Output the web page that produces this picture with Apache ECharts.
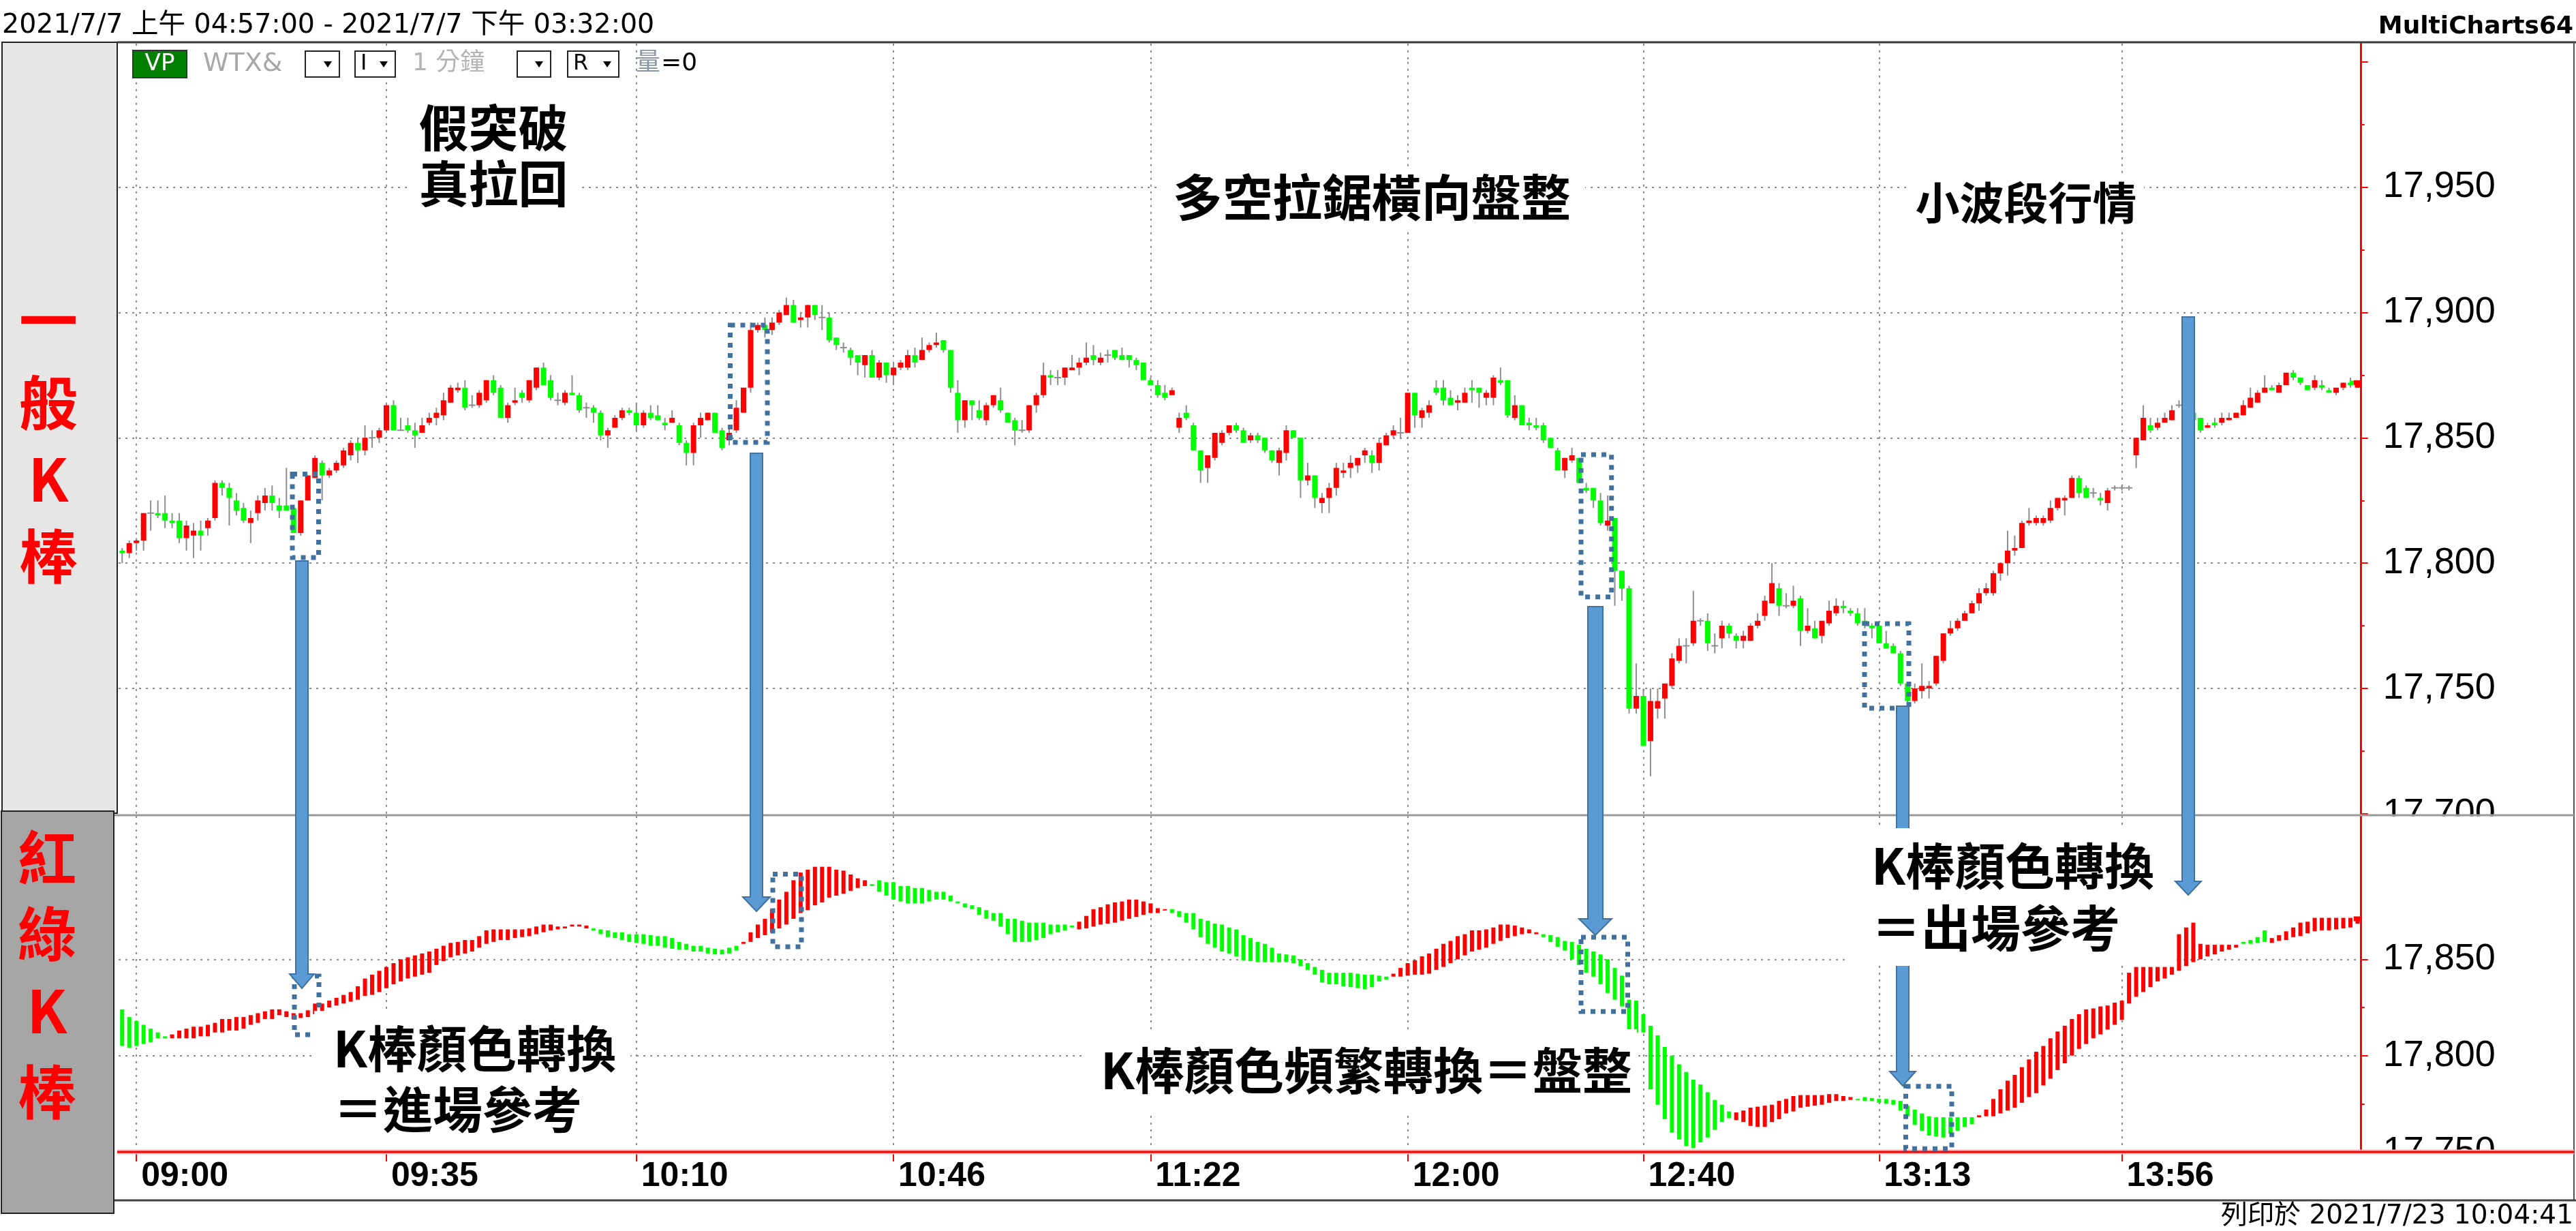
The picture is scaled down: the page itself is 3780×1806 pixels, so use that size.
<!DOCTYPE html>
<html>
<head>
<meta charset="utf-8">
<title>一般K棒 / 紅綠K棒</title>
<script src="https://cdn.jsdelivr.net/npm/echarts@6/dist/echarts.min.js"></script>
<style>
  html, body { margin: 0; padding: 0; background: #fff; }
  #chart { width: 3780px; height: 1806px; }
</style>
</head>
<body>
<div id="chart"></div>
<script>
// WTX& 1 minute bars: [open, close, low, high]
const klines = [
  [17805,17804,17800,17806],[17804,17808,17802,17809],[17808,17809,17805,17810],[17809,17820,17805,17820],[17820,17820,17813,17825],
  [17820,17819,17818,17825],[17820,17817,17814,17827],[17817,17816,17814,17820],[17817,17810,17808,17820],[17810,17815,17805,17817],
  [17811,17813,17802,17816],[17813,17811,17805,17817],[17814,17817,17811,17818],[17818,17832,17817,17833],[17832,17830,17827,17833],
  [17830,17826,17815,17832],[17825,17821,17819,17828],[17822,17817,17816,17824],[17816,17818,17808,17821],[17820,17825,17817,17827],
  [17824,17827,17821,17830],[17827,17824,17821,17831],[17823,17821,17818,17826],[17823,17821,17821,17838],[17822,17812,17812,17822],
  [17812,17825,17811,17825],[17825,17835,17825,17835],[17834,17842,17834,17843],[17840,17835,17825,17841],[17835,17837,17834,17838],
  [17837,17840,17836,17841],[17839,17845,17838,17846],[17843,17848,17841,17849],[17848,17845,17840,17850],[17845,17850,17843,17855],
  [17850,17850,17846,17853],[17850,17853,17848,17854],[17853,17863,17852,17864],[17863,17853,17853,17865],[17853,17853,17853,17858],
  [17855,17853,17852,17858],[17853,17851,17846,17856],[17852,17855,17852,17858],[17856,17858,17855,17860],[17858,17860,17855,17862],
  [17859,17865,17857,17868],[17864,17870,17864,17871],[17869,17870,17868,17872],[17870,17862,17861,17873],[17863,17863,17862,17867],
  [17863,17868,17862,17869],[17865,17873,17864,17873],[17873,17868,17867,17875],[17870,17858,17858,17871],[17858,17863,17856,17864],
  [17864,17865,17863,17870],[17868,17866,17864,17869],[17865,17873,17864,17873],[17870,17878,17869,17878],[17878,17871,17871,17880],
  [17873,17866,17865,17875],[17865,17865,17863,17868],[17864,17868,17863,17869],[17868,17867,17867,17875],[17867,17861,17860,17868],
  [17862,17862,17858,17864],[17862,17860,17856,17863],[17860,17851,17849,17861],[17851,17853,17846,17854],[17854,17858,17854,17859],
  [17858,17861,17857,17862],[17861,17860,17859,17862],[17860,17855,17853,17864],[17855,17860,17854,17861],[17860,17858,17857,17863],
  [17859,17857,17857,17863],[17856,17855,17853,17858],[17856,17858,17856,17861],[17855,17848,17847,17856],[17848,17844,17839,17849],
  [17844,17855,17839,17856],[17855,17858,17850,17860],[17857,17860,17857,17860],[17860,17852,17852,17860],[17853,17846,17845,17854],
  [17849,17852,17847,17854],[17853,17862,17852,17865],[17860,17870,17860,17870],[17870,17893,17868,17896],[17893,17895,17892,17896],
  [17895,17893,17890,17898],[17893,17896,17891,17898],[17896,17900,17895,17901],[17899,17903,17899,17906],[17903,17896,17896,17905],
  [17897,17898,17894,17900],[17898,17903,17894,17903],[17903,17899,17897,17903],[17898,17898,17893,17903],[17898,17889,17888,17900],
  [17890,17887,17885,17890],[17886,17886,17884,17888],[17885,17882,17879,17886],[17883,17880,17875,17883],[17879,17883,17874,17883],
  [17883,17874,17874,17885],[17874,17880,17873,17881],[17880,17875,17872,17880],[17875,17878,17871,17880],[17878,17880,17877,17881],
  [17878,17883,17877,17885],[17883,17880,17878,17886],[17881,17885,17881,17890],[17885,17887,17884,17888],[17887,17888,17886,17892],
  [17889,17885,17884,17889],[17885,17870,17868,17885],[17868,17857,17852,17873],[17857,17865,17854,17865],[17865,17863,17857,17865],
  [17861,17858,17857,17865],[17857,17863,17855,17864],[17863,17867,17862,17867],[17865,17861,17860,17870],[17860,17856,17856,17860],
  [17857,17853,17847,17858],[17853,17853,17852,17857],[17853,17863,17852,17863],[17863,17867,17860,17868],[17867,17875,17866,17880],
  [17875,17874,17871,17877],[17874,17874,17871,17877],[17874,17878,17871,17878],[17877,17878,17877,17883],[17878,17880,17875,17882],
  [17880,17882,17879,17888],[17883,17881,17879,17887],[17880,17882,17879,17884],[17883,17883,17880,17885],[17885,17882,17881,17885],
  [17883,17881,17881,17886],[17883,17881,17878,17883],[17881,17879,17877,17882],[17880,17873,17873,17880],[17873,17871,17871,17874],
  [17871,17867,17866,17873],[17868,17866,17865,17871],[17867,17869,17867,17870],[17854,17858,17852,17860],[17860,17858,17857,17863],
  [17855,17845,17845,17856],[17845,17837,17832,17845],[17838,17843,17832,17843],[17842,17852,17841,17852],[17848,17852,17847,17853],
  [17852,17855,17851,17855],[17855,17853,17852,17856],[17853,17848,17848,17854],[17849,17851,17848,17852],[17851,17849,17848,17852],
  [17850,17845,17844,17850],[17845,17841,17840,17845],[17840,17845,17835,17846],[17844,17853,17841,17855],[17853,17850,17850,17853],
  [17850,17833,17826,17850],[17833,17835,17831,17840],[17835,17826,17822,17835],[17824,17826,17820,17828],[17826,17830,17820,17832],
  [17830,17838,17827,17840],[17836,17837,17834,17840],[17838,17840,17834,17843],[17839,17842,17836,17842],[17843,17845,17840,17846],
  [17843,17840,17836,17845],[17840,17848,17837,17850],[17847,17851,17847,17852],[17851,17853,17850,17855],[17852,17852,17850,17858],
  [17852,17868,17852,17868],[17868,17859,17854,17868],[17858,17861,17854,17862],[17860,17863,17858,17865],[17870,17868,17867,17873],
  [17870,17865,17863,17873],[17866,17863,17863,17869],[17864,17865,17861,17867],[17864,17868,17864,17870],[17870,17869,17864,17873],
  [17870,17868,17862,17870],[17866,17868,17863,17869],[17866,17874,17863,17875],[17873,17872,17871,17878],[17873,17859,17858,17873],
  [17858,17863,17857,17867],[17863,17855,17855,17863],[17856,17855,17853,17858],[17855,17854,17853,17858],[17855,17849,17848,17856],
  [17850,17846,17846,17850],[17845,17837,17837,17846],[17837,17842,17834,17842],[17841,17843,17840,17846],[17842,17832,17832,17842],
  [17830,17829,17828,17832],[17830,17825,17822,17830],[17825,17816,17815,17828],[17815,17817,17813,17827],[17818,17797,17783,17818],
  [17797,17790,17785,17797],[17790,17742,17740,17791],[17742,17747,17740,17760],[17747,17727,17727,17750],[17729,17745,17715,17750],
  [17742,17745,17738,17750],[17746,17752,17738,17752],[17751,17762,17750,17764],[17761,17767,17760,17770],[17767,17767,17760,17770],
  [17768,17777,17767,17789],[17777,17777,17775,17778],[17777,17768,17765,17780],[17767,17767,17764,17772],[17770,17775,17766,17777],
  [17775,17772,17770,17776],[17771,17769,17766,17772],[17769,17771,17766,17773],[17769,17775,17769,17776],[17775,17777,17774,17780],
  [17779,17785,17777,17787],[17784,17792,17784,17800],[17790,17783,17779,17792],[17783,17783,17782,17788],[17783,17785,17782,17791],
  [17786,17773,17767,17787],[17773,17775,17772,17782],[17774,17770,17770,17777],[17771,17777,17768,17777],[17776,17781,17775,17785],
  [17780,17783,17779,17786],[17783,17782,17780,17785],[17781,17780,17779,17782],[17780,17776,17775,17782],[17777,17775,17774,17782],
  [17775,17774,17770,17776],[17775,17768,17768,17775],[17768,17766,17766,17773],[17767,17764,17764,17768],[17764,17752,17751,17765],
  [17752,17745,17744,17752],[17745,17750,17744,17752],[17749,17751,17746,17760],[17750,17751,17746,17753],[17752,17763,17751,17763],
  [17761,17772,17760,17772],[17772,17774,17771,17777],[17774,17777,17773,17778],[17777,17780,17777,17781],[17780,17784,17780,17785],
  [17784,17788,17781,17790],[17788,17790,17787,17792],[17788,17796,17787,17797],[17796,17800,17793,17800],[17800,17805,17795,17813],
  [17805,17806,17803,17811],[17806,17816,17806,17817],[17816,17817,17815,17822],[17816,17818,17815,17819],[17816,17818,17815,17819],
  [17817,17822,17816,17825],[17822,17826,17821,17826],[17825,17826,17819,17827],[17826,17834,17826,17835],[17834,17828,17826,17835],
  [17830,17826,17826,17831],[17828,17828,17826,17830],[17826,17825,17823,17828],[17824,17829,17821,17830],[17830,17830,17829,17831],
  [17830,17830,17829,17831],[17830,17830,17829,17831],[17843,17850,17838,17850],[17849,17858,17849,17863],[17855,17853,17852,17858],
  [17854,17856,17853,17858],[17856,17858,17856,17860],[17857,17861,17857,17863],[17863,17863,17862,17865],[17862,17859,17858,17864],
  [17860,17857,17856,17861],[17858,17853,17852,17858],[17854,17855,17854,17856],[17856,17855,17854,17858],[17856,17858,17855,17860],
  [17857,17858,17857,17860],[17858,17860,17858,17860],[17859,17863,17859,17865],[17862,17866,17862,17870],[17864,17868,17864,17869],
  [17868,17870,17868,17875],[17870,17869,17869,17871],[17868,17871,17868,17872],[17871,17876,17871,17876],[17876,17874,17873,17877],
  [17874,17872,17871,17874],[17871,17869,17869,17871],[17870,17873,17869,17875],[17871,17870,17869,17873],[17869,17868,17868,17870],
  [17868,17870,17867,17870],[17870,17872,17869,17872],[17872,17871,17870,17874],[17870,17872,17870,17873]
];

// smoothed red/green bars of the lower pane: [open, close]
const hkBars = [
  [17824,17805],[17820,17804],[17818,17805],[17816,17806],[17814,17807],[17812,17809],[17810,17809],[17809,17811],[17809,17813],[17809,17814],
  [17809,17815],[17810,17815],[17810,17816],[17812,17817],[17812,17819],[17813,17819],[17813,17820],[17814,17820],[17816,17821],[17817,17822],
  [17819,17823],[17819,17824],[17821,17824],[17820,17823],[17819,17822],[17819.5,17822],[17820,17823.5],[17821.5,17827],[17823,17827],[17825,17828.5],
  [17826,17830],[17827,17831.5],[17828,17833],[17829,17836],[17831,17840],[17831.5,17842],[17833,17844],[17835,17846],[17837,17848],[17838.5,17850],
  [17840,17851],[17841,17852],[17842,17853],[17843,17854],[17847,17855.5],[17849,17857],[17851,17858.5],[17852,17859],[17853,17860],[17854,17860],
  [17856,17862],[17858,17865],[17859,17865.5],[17860,17865.5],[17860,17865.5],[17861,17865.5],[17861.5,17865.5],[17862,17866],[17863,17867],[17864,17868],
  [17865,17868],[17865.5,17867],[17866,17867],[17867,17868],[17867,17868],[17866,17867.5],[17866,17865],[17865.5,17863],[17865,17861.5],[17864,17861],
  [17864,17860],[17863,17859],[17863,17858.5],[17863,17858],[17862.5,17857],[17862,17857],[17862,17856],[17861,17855.5],[17859,17855],[17858,17855],
  [17857,17854],[17857,17854],[17856,17853],[17855.5,17852.5],[17855,17852.5],[17856,17853],[17857,17854.5],[17858,17859],[17859,17864],[17861,17868],
  [17862.5,17871],[17864,17876],[17866,17881],[17868,17885],[17871,17891],[17874,17895],[17875.5,17896.5],[17878,17898],[17879.5,17898],[17882,17898],
  [17883,17896.5],[17884,17896],[17885.5,17894],[17887,17892],[17888,17891],[17889,17888],[17891,17885],[17890,17883],[17890,17881],[17888,17880],
  [17888,17879],[17887,17879],[17887,17879],[17886,17880],[17885,17881],[17885,17881],[17883,17880],[17880,17879],[17879,17877],[17878,17876],
  [17877,17873],[17875.5,17871],[17874,17870],[17874,17867],[17871,17863],[17871,17859],[17870,17859],[17869,17859],[17869,17860],[17869,17861],
  [17868,17863],[17868,17864],[17868,17865],[17867.5,17866.5],[17865.5,17869.5],[17866,17872.5],[17867,17876],[17868,17877],[17868.5,17878.5],[17869,17879.5],
  [17870,17880],[17871,17881],[17872,17881],[17873,17880],[17874,17879],[17874,17876.5],[17875.5,17876],[17876,17874],[17875,17872],[17874,17869],
  [17874,17865.5],[17871,17861.5],[17870,17858],[17868.5,17856],[17868,17854],[17866.5,17853],[17865.5,17851.5],[17862.5,17849.5],[17861,17849],[17859,17848.5],
  [17858,17848.5],[17856,17848.5],[17853,17848.5],[17852.5,17848.5],[17852,17848],[17850,17846.5],[17848,17844.5],[17846,17842],[17844.5,17838],[17843,17837],
  [17843,17837],[17843,17836],[17843,17835.5],[17842.5,17835],[17842,17834.5],[17842,17835.5],[17841.5,17838.5],[17841,17839.5],[17841,17842.5],[17841,17845.5],
  [17841.5,17848],[17842,17849.5],[17842,17851.5],[17842.5,17853],[17844.5,17855.5],[17846,17858],[17848,17859.5],[17850,17862],[17852,17863],[17854,17865],
  [17855,17865],[17856,17865.5],[17858,17866.5],[17859.5,17868],[17861,17868],[17862,17867.5],[17863,17866.5],[17863.5,17865.5],[17863,17864],[17863,17861.5],
  [17862.5,17859],[17861.5,17856.5],[17859.5,17854.5],[17859,17850],[17857.5,17847],[17855.5,17843],[17854,17841],[17852.5,17837],[17850,17832.5],[17845.5,17829],
  [17841.5,17825.5],[17829,17812.5],[17828.5,17812],[17821.5,17812],[17815.5,17782.5],[17810.5,17774.5],[17804.5,17767],[17800,17760],[17795.5,17756.5],[17791.5,17753],
  [17787.5,17752],[17785,17755],[17781,17757.5],[17777,17761.5],[17774.5,17765.5],[17771,17767.5],[17766.5,17770.5],[17765.5,17771.5],[17763.5,17773],[17763,17773.5],
  [17763,17774],[17765.5,17774.5],[17767,17776.5],[17770,17777.5],[17771,17779],[17773,17779.5],[17773.5,17779.5],[17774,17779.5],[17774.5,17779.5],[17775.5,17780],
  [17776.5,17780],[17776.5,17779],[17777,17778.5],[17777.5,17777],[17778.5,17776.5],[17778,17776.5],[17777.5,17775.5],[17777.5,17775],[17777,17774.5],[17776.5,17771.5],
  [17774,17768.5],[17772,17764],[17770,17761],[17768.5,17758.5],[17768,17758],[17768,17757.5],[17768,17759.5],[17768,17761],[17768,17763],[17768,17764.5],
  [17768,17769],[17768.5,17772],[17768.5,17777.5],[17770,17782.5],[17771.5,17787],[17773,17790],[17775.5,17794],[17778.5,17798],[17780.5,17802],[17784.5,17805],
  [17788,17809],[17792.5,17812.5],[17796,17815.5],[17800,17819],[17803.5,17821.5],[17806,17824],[17809,17824.5],[17811,17825.5],[17813.5,17826],[17816,17827.5],
  [17818.5,17828.5],[17827,17843],[17830.5,17846],[17833,17846],[17835.5,17846],[17838.5,17846],[17840,17846],[17842,17846],[17844,17863],[17846.5,17866.5],
  [17848.5,17869],[17850,17858],[17851.5,17857.5],[17852.5,17857.5],[17854,17857.5],[17855,17857.5],[17856,17857.5],[17859,17858],[17860,17858],[17861.5,17858.5],
  [17865,17859],[17858.5,17861],[17859.5,17862.5],[17860,17864.5],[17861.5,17866.5],[17862,17869],[17863.5,17869.5],[17864.5,17871.5],[17865,17871.5],[17865,17871.5],
  [17865.5,17871.5],[17866,17871.5],[17866.5,17871.5],[17868.5,17871]
];

// time axis: bar index of each labelled tick and its text
const tickIndex = [2, 37, 72, 108, 144, 180, 213, 246, 280];
const tickLabels = ['09:00', '09:35', '10:10', '10:46', '11:22', '12:00', '12:40', '13:13', '13:56'];

const UP = '#ff0000';
const DOWN = '#00ff00';
const WICK = '#8e8e8e';
const FONT_CJK = '"Noto Sans CJK TC", "Noto Sans CJK SC", sans-serif';
const FONT_UI = '"DejaVu Sans", "Noto Sans CJK TC", sans-serif';
const gridDots = { color: '#8a8a8a', width: 2, type: [3, 7] };

const categories = klines.map((_, i) => String(i));
const candleData = klines.map((k, i) => [i, k[0], k[1], k[2], k[3]]);
const hkData = hkBars.map((b, i) => [i, b[0], b[1]]);

const isTick = (index) => tickIndex.indexOf(index) >= 0;
const thousands = (v) => String(v).replace(/\B(?=(\d{3})+(?!\d))/g, ',');

function renderCandle(params, api) {
  const i = api.value(0);
  const o = api.value(1), c = api.value(2);
  const pO = api.coord([i, o]);
  const pC = api.coord([i, c]);
  const pL = api.coord([i, api.value(3)]);
  const pH = api.coord([i, api.value(4)]);
  const x = pO[0];
  const bw = 8;
  const children = [{
    type: 'line',
    shape: { x1: x, y1: pH[1], x2: x, y2: pL[1] },
    style: { stroke: WICK, lineWidth: 2 }
  }];
  if (o === c) {
    children.push({
      type: 'line',
      shape: { x1: x - bw / 2 - 1, y1: pO[1], x2: x + bw / 2 + 1, y2: pO[1] },
      style: { stroke: WICK, lineWidth: 2 }
    });
  } else {
    children.push({
      type: 'rect',
      shape: { x: x - bw / 2, y: Math.min(pO[1], pC[1]), width: bw, height: Math.max(2, Math.abs(pO[1] - pC[1])) },
      style: { fill: c > o ? UP : DOWN }
    });
  }
  return { type: 'group', children: children };
}

function renderHk(params, api) {
  const i = api.value(0);
  const o = api.value(1), c = api.value(2);
  const pO = api.coord([i, o]);
  const pC = api.coord([i, c]);
  const bw = 6;
  return {
    type: 'rect',
    shape: { x: pO[0] - bw / 2, y: Math.min(pO[1], pC[1]), width: bw, height: Math.max(2, Math.abs(pO[1] - pC[1])) },
    style: { fill: c > o ? UP : DOWN }
  };
}

// ---- overlay helpers (page furniture and annotations) ----
function text(str, x, y, font, fill, align, z) {
  return {
    type: 'text', x: x, y: y, z: z || 50, silent: true,
    style: {
      text: str, font: font, fill: fill,
      textAlign: align || 'left', textVerticalAlign: 'middle',
      align: align || 'left', verticalAlign: 'middle'
    }
  };
}
function rect(x, y, w, h, style, z) {
  return { type: 'rect', shape: { x: x, y: y, width: w, height: h }, style: style, z: z || 1, silent: true };
}
function line(x1, y1, x2, y2, stroke, width, z) {
  return { type: 'line', shape: { x1: x1, y1: y1, x2: x2, y2: y2 }, style: { stroke: stroke, lineWidth: width }, z: z || 5, silent: true };
}
function arrow(cx, y0, y1, shaftW, headW, headH) {
  const s = shaftW / 2, h = headW / 2, yh = y1 - headH;
  return {
    type: 'polygon', z: 30, silent: true,
    shape: { points: [[cx - s, y0], [cx + s, y0], [cx + s, yh], [cx + h, yh], [cx, y1], [cx - h, yh], [cx - s, yh]] },
    style: { fill: '#5B9BD5', stroke: '#41719C', lineWidth: 2 }
  };
}
function dashedBox(x, y, w, h) {
  return rect(x, y, w, h, { fill: 'none', stroke: '#41719C', lineWidth: 7, lineDash: [7, 8] }, 25);
}
function dropBox(x, w, letter) {
  const items = [rect(x, 75, w, 38, { fill: '#fff', stroke: '#222', lineWidth: 2 }, 6)];
  const tx = x + w - 17;
  items.push({ type: 'polygon', z: 7, silent: true, shape: { points: [[tx - 6, 90], [tx + 6, 90], [tx, 99]] }, style: { fill: '#000' } });
  if (letter) items.push(text(letter, x + 8, 94, '32px ' + FONT_UI, '#000', 'left', 7));
  return items;
}

const bigFont = 'bold 73px ' + FONT_CJK;
const sideFont = 'bold 86px ' + FONT_CJK;

const graphics = [
  // left side panels
  rect(3, 62, 169, 1131, { fill: '#e6e6e6', stroke: '#222', lineWidth: 2 }, 1),
  rect(2, 1190, 165, 590, { fill: '#a6a6a6', stroke: '#222', lineWidth: 2 }, 1),
  text('一', 71, 470, sideFont, UP, 'center', 2),
  text('般', 71, 591, sideFont, UP, 'center', 2),
  text('K', 71, 703, sideFont, UP, 'center', 2),
  text('棒', 71, 816, sideFont, UP, 'center', 2),
  text('紅', 69, 1258, sideFont, UP, 'center', 2),
  text('綠', 69, 1370, sideFont, UP, 'center', 2),
  text('K', 69, 1483, sideFont, UP, 'center', 2),
  text('棒', 69, 1602, sideFont, UP, 'center', 2),

  // header, frame lines
  text('2021/7/7 上午 04:57:00 - 2021/7/7 下午 03:32:00', 3, 38, '39.5px ' + FONT_UI, '#000', 'left', 5),
  text('MultiCharts64', 3776, 40, 'bold 36px ' + FONT_UI, '#000', 'right', 5),
  line(172, 62, 3780, 62, '#3a3a3a', 3, 13),
  line(3777, 62, 3777, 1761, '#555', 2, 13),
  line(168, 1761, 3780, 1761, '#444', 3, 13),
  text('列印於 2021/7/23 10:04:41', 3776, 1785, '39px ' + FONT_UI, '#000', 'right', 5),

  // masks that cut the extreme axis labels at the pane borders
  rect(3467, 1197.5, 308, 30, { fill: '#fff' }, 12),
  rect(3467, 1692, 308, 45, { fill: '#fff' }, 12),
  line(168, 1196, 3777, 1196, '#9a9a9a', 3, 13),
  rect(172, 1686.5, 3605, 7, { fill: '#f7b8b8' }, 13),
  line(172, 1690, 3777, 1690, UP, 3, 14),

  // toolbar
  rect(195, 74, 79, 40, { fill: '#008000', stroke: '#333', lineWidth: 2 }, 6),
  text('VP', 234.5, 94, '34px ' + FONT_UI, '#fff', 'center', 7),
  text('WTX&', 298, 94, '38px ' + FONT_UI, '#a8a8a8', 'left', 6),
  ...dropBox(448, 50),
  ...dropBox(521, 59, 'I'),
  text('1 分鐘', 605, 94, '36px ' + FONT_UI, '#b4b4b4', 'left', 6),
  ...dropBox(759, 49),
  ...dropBox(833, 75, 'R'),
  text('量', 933, 94, '36px ' + FONT_UI, '#8a96a8', 'left', 6),
  text('=0', 970, 94, '36px ' + FONT_UI, '#000', 'left', 6),

  // dashed highlight boxes
  dashedBox(429, 695.5, 38.5, 122.5),
  dashedBox(1071.5, 477, 54.5, 172),
  dashedBox(2320, 667, 44.7, 208.7),
  dashedBox(2736, 915, 65, 124),
  dashedBox(432, 1432, 36, 86),
  dashedBox(1134, 1282.5, 42, 106.5),
  dashedBox(2320, 1375, 68.5, 109),
  dashedBox(2796.5, 1593.7, 67.5, 91.5),

  // arrows
  arrow(443, 823, 1450, 18, 36, 21),
  arrow(1110, 665, 1337, 18, 40, 21),
  arrow(2341, 890, 1372, 22, 48, 24),
  arrow(2792, 1036, 1593, 18, 38, 21),
  arrow(3211, 465, 1313, 18, 38, 20),

  // annotation text boxes (white backed)
  rect(600, 140, 250, 172, { fill: '#fff' }, 35),
  text('假突破', 724, 187, bigFont, '#000', 'center', 36),
  text('真拉回', 724, 269, bigFont, '#000', 'center', 36),
  rect(1700, 245, 626, 90, { fill: '#fff' }, 35),
  text('多空拉鋸橫向盤整', 2013, 289, bigFont, '#000', 'center', 36),
  rect(2800, 255, 346, 84, { fill: '#fff' }, 35),
  text('小波段行情', 2973, 297, 'bold 65px ' + FONT_CJK, '#000', 'center', 36),
  rect(461, 1483, 464, 202, { fill: '#fff' }, 35),
  text('K棒顏色轉換', 489, 1538, bigFont, '#000', 'left', 36),
  text('＝進場參考', 489, 1627, bigFont, '#000', 'left', 36),
  rect(1590, 1510, 812, 120, { fill: '#fff' }, 35),
  text('K棒顏色頻繁轉換＝盤整', 1615, 1570, bigFont, '#000', 'left', 36),
  rect(2713, 1215, 477, 202, { fill: '#fff' }, 35),
  text('K棒顏色轉換', 2746, 1270, bigFont, '#000', 'left', 36),
  text('＝出場參考', 2746, 1361, bigFont, '#000', 'left', 36)
];

const plotLeft = 174;
const plotWidth = 3290.7;
const gridBase = { left: plotLeft, width: plotWidth, containLabel: false, outerBoundsMode: 'none' };

const option = {
  animation: false,
  backgroundColor: '#fff',
  textStyle: { fontFamily: '"Liberation Sans", Arial, sans-serif' },
  grid: [
    Object.assign({ top: 90.75, height: 1103.15 }, gridBase), // upper price pane, 17,700 - 18,000
    Object.assign({ top: 1197, height: 493 }, gridBase),      // lower pane data
    Object.assign({ top: 1407.3, height: 282.7 }, gridBase),  // lower pane labelled scale
    Object.assign({ top: 64, height: 26.75 }, gridBase)       // strip above 18,000 (toolbar row)
  ],
  xAxis: [
    {
      gridIndex: 0, type: 'category', data: categories, boundaryGap: true,
      axisLine: { show: false }, axisTick: { show: false }, axisLabel: { show: false },
      splitLine: { show: true, interval: isTick, alignWithLabel: true, lineStyle: gridDots }
    },
    {
      gridIndex: 1, type: 'category', data: categories, boundaryGap: true,
      axisLine: { show: false, onZero: false },
      axisTick: { show: true, interval: isTick, alignWithLabel: true, length: 14, lineStyle: { color: UP, width: 2 } },
      axisLabel: {
        show: true, interval: isTick, align: 'left', padding: [0, 0, 0, 7], margin: 11,
        color: '#000', fontSize: 50, fontWeight: 'bold', fontFamily: '"Liberation Sans", Arial, sans-serif',
        formatter: (value, index) => tickLabels[tickIndex.indexOf(index)] || ''
      },
      splitLine: { show: true, interval: isTick, alignWithLabel: true, lineStyle: gridDots }
    },
    { gridIndex: 2, type: 'category', data: categories, show: false },
    {
      gridIndex: 3, type: 'category', data: categories, boundaryGap: true,
      axisLine: { show: false }, axisTick: { show: false }, axisLabel: { show: false },
      splitLine: { show: true, interval: isTick, alignWithLabel: true, lineStyle: gridDots }
    }
  ],
  yAxis: [
    {
      gridIndex: 0, type: 'value', position: 'right', min: 17700, max: 18000, interval: 50,
      axisLine: { show: true, lineStyle: { color: UP, width: 3 } },
      axisTick: { show: true, length: 10, lineStyle: { color: UP, width: 2 } },
      minorTick: { show: true, splitNumber: 2, length: 5, lineStyle: { color: UP, width: 2 } },
      axisLabel: {
        showMaxLabel: false, margin: 32, fontSize: 54, color: '#000',
        formatter: (v) => (v < 18000 ? thousands(v) : '')
      },
      splitLine: { show: true, showMinLine: false, showMaxLine: false, lineStyle: gridDots }
    },
    {
      gridIndex: 1, type: 'value', position: 'right', min: 17750, max: 17924.4,
      axisLine: { show: true, lineStyle: { color: UP, width: 3 } },
      axisTick: { show: false }, axisLabel: { show: false }, splitLine: { show: false }
    },
    {
      gridIndex: 2, type: 'value', position: 'right', min: 17750, max: 17850, interval: 50,
      axisLine: { show: false },
      axisTick: { show: true, length: 10, lineStyle: { color: UP, width: 2 } },
      minorTick: { show: true, splitNumber: 2, length: 5, lineStyle: { color: UP, width: 2 } },
      axisLabel: { margin: 32, fontSize: 54, color: '#000', formatter: (v) => thousands(v) },
      splitLine: { show: true, showMinLine: false, lineStyle: gridDots }
    },
    {
      gridIndex: 3, type: 'value', position: 'right', min: 0, max: 1,
      axisLine: { show: true, lineStyle: { color: UP, width: 3 } },
      axisTick: { show: false }, axisLabel: { show: false }, splitLine: { show: false }
    }
  ],
  series: [
    {
      name: '一般K棒', type: 'custom', xAxisIndex: 0, yAxisIndex: 0,
      renderItem: renderCandle, data: candleData, encode: { x: 0, y: [1, 2, 3, 4] }, clip: true, silent: true
    },
    {
      name: '紅綠K棒', type: 'custom', xAxisIndex: 1, yAxisIndex: 1,
      renderItem: renderHk, data: hkData, encode: { x: 0, y: [1, 2] }, clip: true, silent: true
    }
  ],
  graphic: { elements: graphics }
};

const chart = echarts.init(document.getElementById('chart'), null, { renderer: 'canvas' });
chart.setOption(option);

// last-value markers on the price axis, placed through the axes' own scales
const axisX = plotLeft + plotWidth;
const lastK = klines[klines.length - 1][1];
const lastHk = hkBars[hkBars.length - 1][1];
const yK = chart.convertToPixel({ yAxisIndex: 0 }, lastK);
const yH = chart.convertToPixel({ yAxisIndex: 1 }, lastHk);
chart.setOption({
  graphic: {
    elements: graphics.concat([
      rect(axisX - 17, yK - 3, 6, 6, { fill: DOWN }, 15),
      rect(axisX - 11, yK - 3.5, 11, 7, { fill: UP }, 15),
      rect(axisX - 11, yH - 3.5, 11, 7, { fill: UP }, 15)
    ])
  }
});
</script>
</body>
</html>
